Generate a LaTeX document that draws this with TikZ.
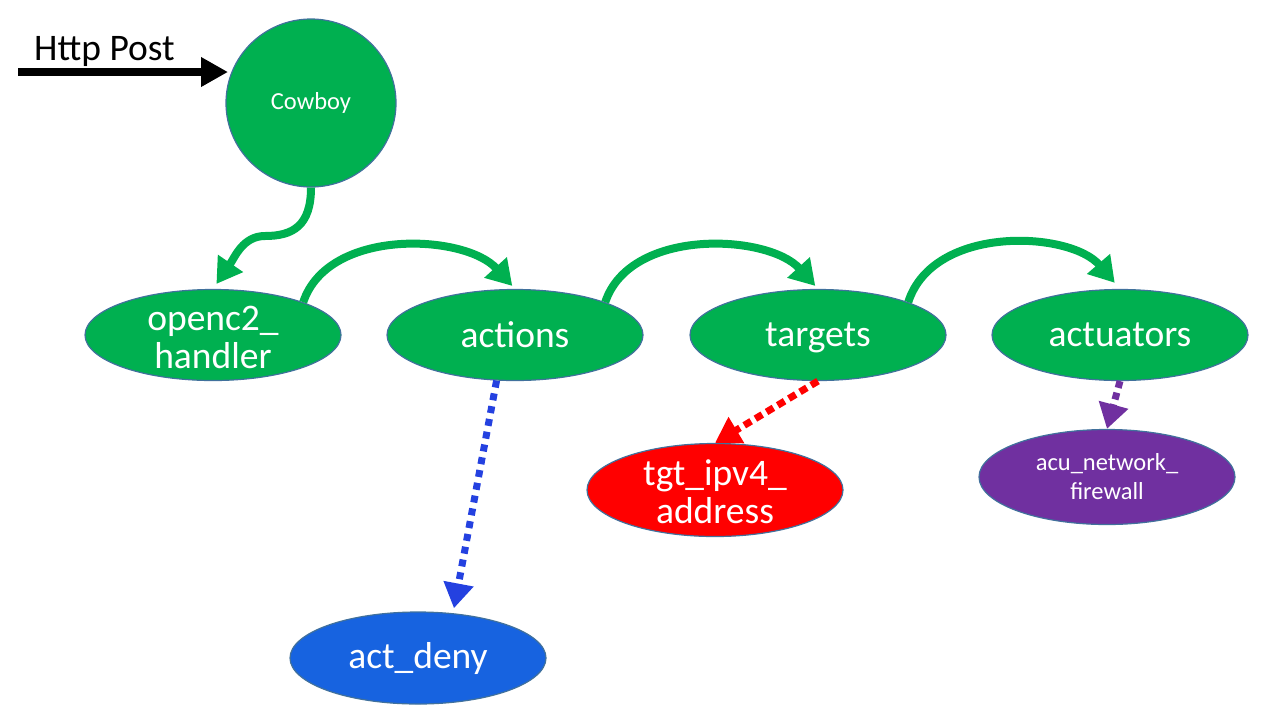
\documentclass[tikz,border=0pt]{standalone}
\usepackage{fontspec}
\setmainfont{Carlito}
\usetikzlibrary{arrows.meta,shapes.geometric}
\definecolor{ggreen}{HTML}{00B050}
\definecolor{bordc}{HTML}{41719C}
\definecolor{rred}{HTML}{FF0000}
\definecolor{ppurple}{HTML}{7030A0}
\definecolor{bblue}{HTML}{1763E0}
\definecolor{barrow}{HTML}{2441E0}
\newcommand{\twolines}[3]{\smash{\raisebox{#3}{\begin{tabular}{@{}c@{}}#1\\#2\end{tabular}}}}
\begin{document}
\begin{tikzpicture}[x=1pt,y=-1pt,
  nd/.style={ellipse, draw=bordc, line width=1.2pt, fill=ggreen, text=white, inner sep=0pt,
    minimum width=256pt, minimum height=91pt, align=center, font=\fontsize{37.5}{38}\selectfont},
  small/.style={font=\fontsize{24.5}{29}\selectfont},
  tip/.style={-{Triangle[length=25pt,width=29pt]}},
  garrow/.style={draw=ggreen, line width=8pt, tip},
  dotarrow/.style={line width=7pt, tip},
]
\useasboundingbox (0,0) rectangle (1269,716);

\node[nd, small, minimum width=170pt, minimum height=168pt] (cb) at (311,103) {Cowboy};
\node[nd] (h) at (213,335) {\twolines{openc2\_}{handler}{-13pt}};
\node[nd] (a) at (515,335) {actions};
\node[nd] (t) at (818,335) {\raisebox{0pt}[\height][0pt]{targets}};
\node[nd] (u) at (1120,335) {actuators};
\node[nd, fill=rred, minimum height=93pt] (tg) at (715,490) {\twolines{tgt\_ipv4\_}{address}{-13pt}};
\node[nd, small, fill=ppurple, minimum height=95pt] (acu) at (1107,477) {\twolines{acu\_network\_}{firewall}{-8pt}};
\node[nd, fill=bblue, minimum height=92pt] (ad) at (418,658) {act\_deny};

% Http Post
\coordinate (hs) at (18,72);
\coordinate (he) at (228,72);
\node[anchor=base west, font=\fontsize{37.5}{40}\selectfont, inner sep=0pt] (lbl) at (34,60) {Http Post};
\draw[line width=8pt, -{Triangle[length=27pt,width=28pt]}] (hs) -- (he);

% green flow
\draw[garrow, shorten >=6pt] (cb.south) .. controls +(0,38) and +(28,0) .. (265,236)
   .. controls +(-22,0) and +(22,-32) .. (h.north);
\draw[garrow, shorten >=4pt] (h.20) .. controls +(25,-75) and +(-50,-55) .. (a.north);
\draw[garrow, shorten >=4pt] (a.20) .. controls +(25,-75) and +(-50,-55) .. (t.north);
\draw[garrow, shorten >=8pt] (t.20) .. controls +(25,-78) and +(-50,-58) .. (u.north);

% dotted children
\draw[dotarrow, barrow, dash pattern=on 7pt off 6pt, shorten >=5pt] (a.248) -- (ad.52);
\draw[dotarrow, rred, dash pattern=on 8pt off 5pt] (t.south) -- (tg.north);
\draw[dotarrow, ppurple, dash pattern=on 7pt off 5pt] (u.south) -- (acu.north);
\end{tikzpicture}
\end{document}
